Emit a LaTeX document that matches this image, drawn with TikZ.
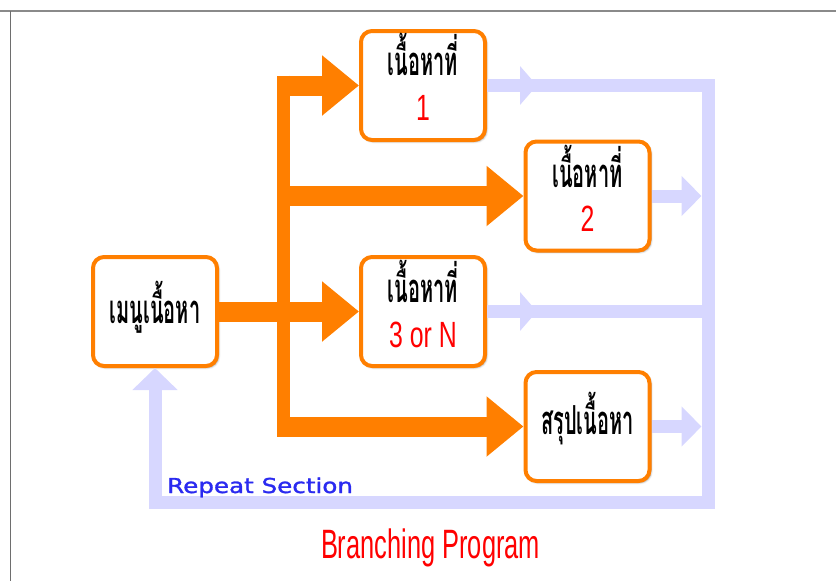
\documentclass[tikz,border=0pt]{standalone}
\usepackage{fontspec}
\usetikzlibrary{arrows.meta,shadows.blur,calc}

% Fonts: narrow Thai face for the box captions, narrow sans for numbers and title
\newfontfamily\thaifont[Script=Thai,FakeStretch=0.5]{Loma}
\newfontfamily\condfont[FakeStretch=0.68]{Liberation Sans}
\newfontfamily\titlefont[FakeStretch=0.62]{Liberation Sans}
\newfontfamily\labelfont[FakeStretch=1.2,FakeBold=1.4]{DejaVu Sans}

\definecolor{flow}{HTML}{FF7F00}
\definecolor{loopback}{HTML}{D7D7FF}
\definecolor{repeatblue}{HTML}{2A2AF0}
\definecolor{numred}{HTML}{FF0000}
\definecolor{framegray}{HTML}{8A8A8A}

\begin{document}
\begin{tikzpicture}[x=1pt,y=-1pt,
  card/.style={draw=flow, line width=4pt, fill=white, rounded corners=11pt,
    minimum width=124pt, minimum height=109pt, inner sep=0pt,
    blur shadow={shadow xshift=1.5pt, shadow yshift=-1.5pt,
      shadow blur radius=2pt, shadow opacity=45}},
  thaitext/.style={anchor=base, inner sep=0pt,
    font=\thaifont\bfseries\fontsize{40}{44}\selectfont},
  numtext/.style={anchor=base, inner sep=0pt, text=numred,
    font=\condfont\fontsize{36.5}{40}\selectfont},
  trunkline/.style={draw=flow, line width=13pt},
  feed/.style={draw=flow, line width=20pt},
  branch/.style={draw=flow, line width=20pt, -{Triangle[length=37pt,width=58pt]}},
  loopline/.style={draw=loopback, line width=13pt, line join=miter},
  midhead/.style={draw=loopback, line width=13pt, -{Triangle[length=17pt,width=38pt]}},
  endhead/.style={draw=loopback, line width=13pt, -{Triangle[length=20pt,width=39pt]}},
]
\useasboundingbox (0,0) rectangle (836,581);

% frame edges
\draw[framegray, line width=1.6pt] (0,11) -- (836,11);
\draw[framegray!80!black, line width=1pt] (10,11) -- (10,581);

% helper coordinates for the vertical runs
\coordinate (tk) at (283.5,0);
\coordinate (rt) at (708,0);
\coordinate (bot) at (0,502);

% boxes
\node[card] (menu) at (155,311.5) {};
\node[card] (b1) at (423,85.5) {};
\node[card] (b2) at (587.5,196) {};
\node[card] (b3) at (423,311.5) {};
\node[card] (b4) at (587.5,426.5) {};

% box captions
\node[thaitext] (menut) at ($(menu.center)+(0,12)$) {เมนูเนื้อหา};
\node[thaitext] (b1t) at ($(b1.center)+(0,-10)$) {เนื้อหาที่};
\node[numtext]  (b1n) at ($(b1.center)+(0,34.5)$) {1};
\node[thaitext] (b2t) at ($(b2.center)+(0,-9)$) {เนื้อหาที่};
\node[numtext]  (b2n) at ($(b2.center)+(0,35.5)$) {2};
\node[thaitext] (b3t) at ($(b3.center)+(0,-9.5)$) {เนื้อหาที่};
\node[numtext]  (b3n) at ($(b3.center)+(0,35.5)$) {3 or N};
\node[thaitext] (b4t) at ($(b4.center)+(0,8)$) {สรุปเนื้อหา};

% loop-back connectors
\draw[loopline] (b3.east) -- (rt |- b3.east);
\draw[midhead] (b3.east) -- ++(50,0);
\draw[midhead] (b1.east) -- ++(50,0);
\draw[endhead] (b2.east) -- ($(rt |- b2.east)+(-6.5,0)$);
\draw[endhead] (b4.east) -- ($(rt |- b4.east)+(-6.5,0)$);
\draw[loopline, -{Triangle[length=22pt,width=44pt]}]
  (b1.east) -- (rt |- b1.east) -- (rt |- bot) -- (menu.south |- bot) -- (menu.south);

% branching connectors
\draw[feed] (menu.east) -- (tk |- menu.east);
\draw[trunkline] ($(tk |- b1.west)+(0,-10)$) -- ($(tk |- b4.west)+(0,10)$);
\draw[branch] ($(tk |- b1.west)+(-6.5,0)$) -- (b1.west);
\draw[branch] ($(tk |- b2.west)+(-6.5,0)$) -- (b2.west);
\draw[branch] ($(tk |- b3.west)+(-6.5,0)$) -- (b3.west);
\draw[branch] ($(tk |- b4.west)+(-6.5,0)$) -- (b4.west);

% labels
\node[anchor=base west, inner sep=0pt, text=repeatblue,
  font=\labelfont\fontsize{20.5}{24}\selectfont] (rep) at (167,493) {Repeat Section};
\node[anchor=base, inner sep=0pt, text=numred,
  font=\titlefont\fontsize{41}{46}\selectfont] (title) at (430.5,558) {Branching Program};
\end{tikzpicture}
\end{document}
